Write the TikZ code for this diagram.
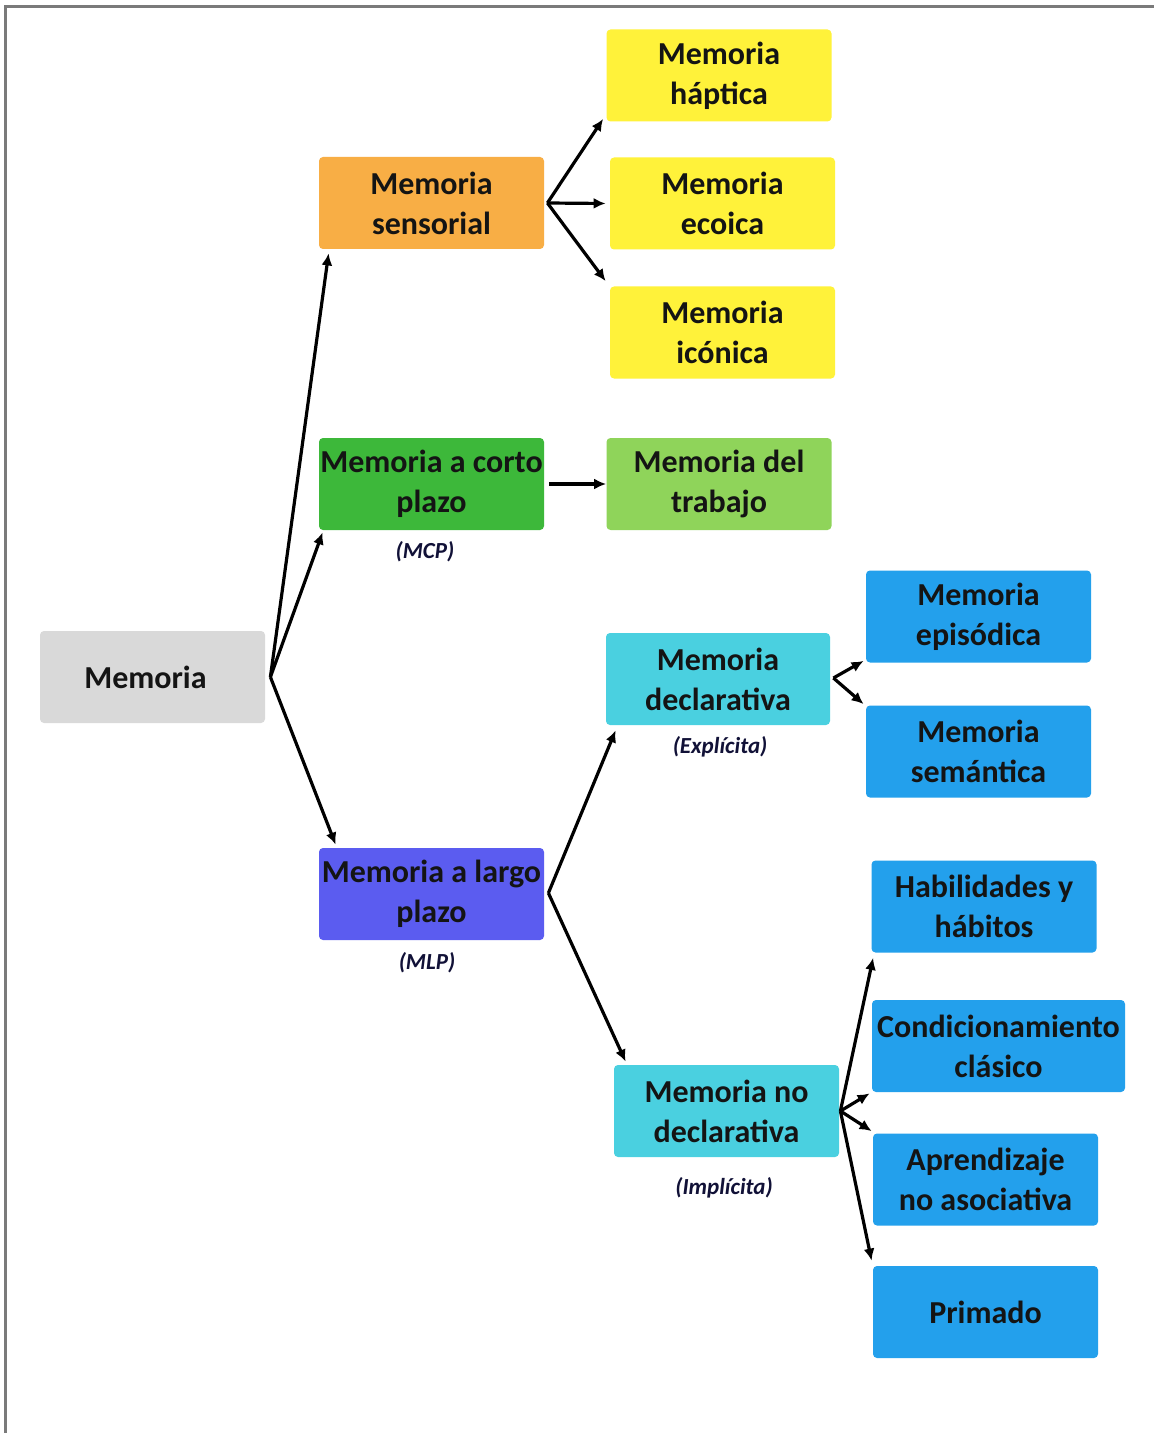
\documentclass[tikz,border=0pt]{standalone}
\usepackage{fontspec}
\setmainfont{Carlito}
\usetikzlibrary{arrows.meta,calc}
\definecolor{cgray}{HTML}{D9D9D9}
\definecolor{corange}{HTML}{F8AE45}
\definecolor{cyellow}{HTML}{FFF23A}
\definecolor{cgreen}{HTML}{3DB83A}
\definecolor{clgreen}{HTML}{8FD45A}
\definecolor{ccyan}{HTML}{4AD0E0}
\definecolor{cblue}{HTML}{23A0EC}
\definecolor{cviolet}{HTML}{5B5CF0}
\definecolor{ctext}{HTML}{141414}
\definecolor{cframe}{HTML}{7A7A7A}
\tikzset{
  box/.style={rounded corners=2pt, inner sep=0pt, align=center, text=ctext,
    font=\fontsize{16}{20}\selectfont\bfseries,
    minimum width=112.5pt, minimum height=46pt},
  note/.style={font=\fontsize{11.5}{13}\selectfont\bfseries\itshape, text=ctext!85!blue, inner sep=0pt},
  arr/.style={line width=1.6pt, -{Latex[length=6pt,width=5.5pt]}},
}
\begin{document}
\begin{tikzpicture}[x=0.5pt,y=-0.5pt]
\useasboundingbox (0,0) rectangle (1154,1433);
\fill[white] (0,0) rectangle (1154,1433);
\draw[cframe, line width=1.5pt] (5,1433) -- (5,7) -- (1154,7);

% nodes
\node[box, fill=cgray] (mem) at (152.5,677) {Memoria\hspace*{7pt}};
\node[box, fill=corange] (sens) at (431.5,203) {Memoria\\sensorial};
\node[box, fill=cyellow] (hapt) at (719,75.5) {Memoria\\háptica};
\node[box, fill=cyellow] (eco) at (722.5,203.5) {Memoria\\ecoica};
\node[box, fill=cyellow] (ico) at (722.5,332.5) {Memoria\\icónica};
\node[box, fill=cgreen] (corto) at (431.5,484) {Memoria a corto\\plazo};
\node[box, fill=clgreen] (trab) at (719,484) {Memoria del\\trabajo};
\node[box, fill=ccyan, minimum width=112pt] (decl) at (718,679) {Memoria\\declarativa};
\node[box, fill=cblue] (epi) at (978.5,616.5) {Memoria\\episódica};
\node[box, fill=cblue] (sem) at (978.5,751.5) {Memoria\\semántica};
\node[box, fill=cviolet] (largo) at (431.5,894) {Memoria a largo\\plazo};
\node[box, fill=ccyan] (nodecl) at (726.5,1111) {Memoria no\\declarativa};
\node[box, fill=cblue] (hab) at (984,906.5) {Habilidades y\\hábitos};
\node[box, fill=cblue, minimum width=126.5pt] (cond) at (998.5,1046) {Condicionamiento\\clásico};
\node[box, fill=cblue] (apr) at (985.5,1179.5) {Aprendizaje\\no asociativa};
\node[box, fill=cblue] (prim) at (985.5,1312) {Primado};

% notes
\node[note] (mcp) at (425,552) {(MCP)};
\node[note] (mlp) at (427,963) {(MLP)};
\node[note] (expl) at (720,747) {(Explícita)};
\node[note] (impl) at (724,1188) {(Implícita)};

% fan points
\coordinate (f0) at ($(mem.east)+(5,0)$);
\coordinate (f1) at ($(sens.east)+(3,0)$);
\coordinate (f2) at ($(decl.east)+(3,-1)$);
\coordinate (f3) at ($(largo.east)+(4,-1)$);
\coordinate (f4) at ($(nodecl.east)+(1,0)$);

% connectors
\draw[arr] (f0) -- ($(sens.south west)+(10,4)$);
\draw[arr] (f0) -- ($(corto.south west)+(4,2)$);
\draw[arr] (f0) -- ($(largo.north west)+(17,-3)$);

\draw[arr] (f1) -- ($(hapt.south west)+(-3,-3)$);
\draw[arr] (f1) -- ($(eco.west)+(-4,0)$);
\draw[arr] (f1) -- ($(ico.north west)+(-4,-5)$);

\draw[arr] ($(corto.east)+(5,0)$) -- (trab.west);

\draw[arr] (f2) -- ($(epi.south west)+(-2,-2)$);
\draw[arr] (f2) -- ($(sem.north west)+(-2,-1)$);

\draw[arr] (f3) -- ($(decl.south west)+(10,5)$);
\draw[arr] (f3) -- ($(nodecl.north west)+(12,-3)$);

\draw[arr] (f4) -- ($(hab.south west)+(2,5)$);
\draw[arr] (f4) -- ($(cond.south west)+(-2,1)$);
\draw[arr] (f4) -- ($(apr.north west)+(-1,-2)$);
\draw[arr] (f4) -- ($(prim.north west)+(-1,-5)$);
\end{tikzpicture}
\end{document}
